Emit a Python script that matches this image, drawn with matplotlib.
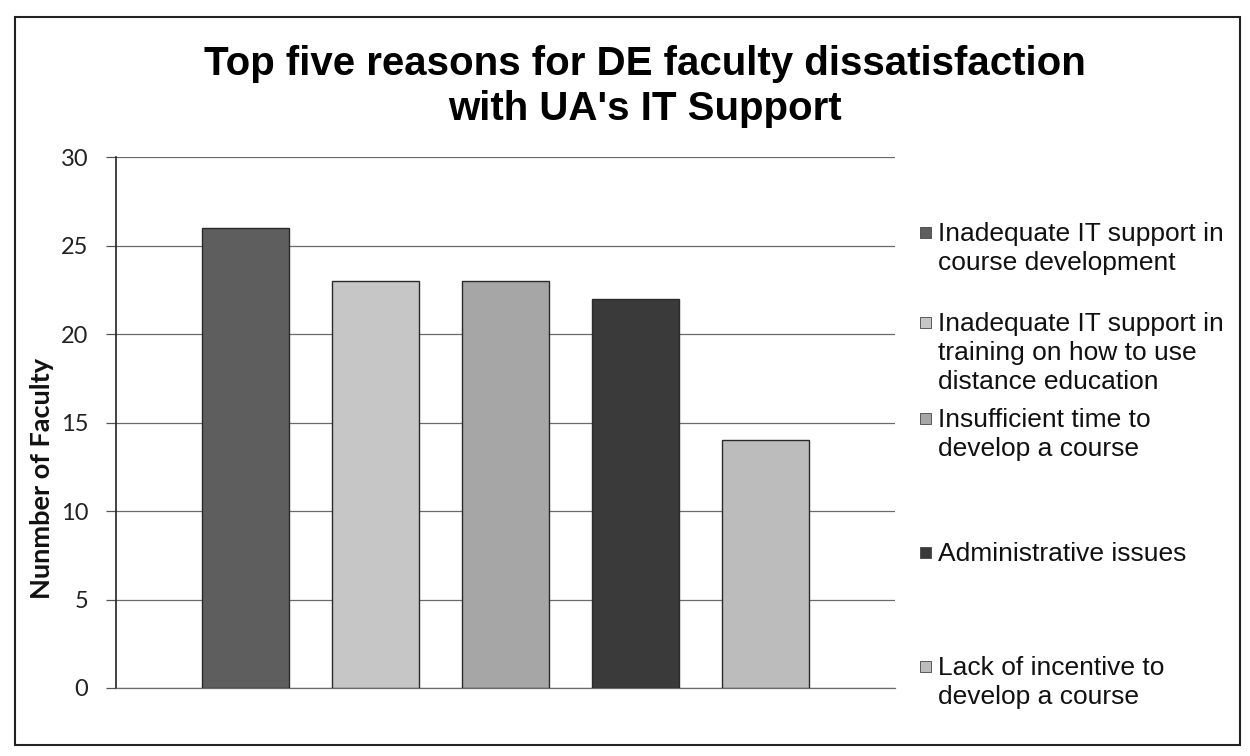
import matplotlib
matplotlib.use("Agg")
import matplotlib.pyplot as plt
from matplotlib.patches import Rectangle

# data
reasons = [
    "Inadequate IT support in\ncourse development",
    "Inadequate IT support in\ntraining on how to use\ndistance education",
    "Insufficient time to\ndevelop a course",
    "Administrative issues",
    "Lack of incentive to\ndevelop a course",
]
faculty_counts = [26, 23, 23, 22, 14]
bar_colors = ["#5e5e5e", "#c6c6c6", "#a6a6a6", "#3a3a3a", "#bcbcbc"]
y_ticks = [0, 5, 10, 15, 20, 25, 30]

fig = plt.figure(figsize=(12.5, 7.56), dpi=100)
ax = fig.add_axes([0.0928, 0.090, 0.6232, 0.702])

x = range(len(faculty_counts))
ax.bar(x, faculty_counts, width=0.67, color=bar_colors, edgecolor="#2a2a2a",
       linewidth=1.0, zorder=3)

ax.set_xlim(-1, 5)
ax.set_ylim(0, 30)
ax.set_yticks(y_ticks)
ax.set_xticks([])
ax.yaxis.grid(True, color="#6a6a6a", linewidth=0.9, zorder=0)
ax.tick_params(axis="y", length=7, width=0.9, color="#555555", pad=13,
               labelsize=17, labelcolor="#222222")
for lbl in ax.get_yticklabels():
    lbl.set_family("Lato")
for side in ["top", "right"]:
    ax.spines[side].set_visible(False)
ax.spines["left"].set_color("#222222")
ax.spines["left"].set_linewidth(1.2)
ax.spines["bottom"].set_color("#6a6a6a")
ax.spines["bottom"].set_linewidth(0.9)

ax.set_ylabel("Nunmber of Faculty", family="Lato", fontweight="bold",
              fontsize=19.5, color="#111111")
ax.yaxis.set_label_coords(-0.08, 0.394)

title_lines = ["Top five reasons for DE faculty dissatisfaction", "with UA's IT Support"]
for line, yy in zip(title_lines, [0.9010, 0.8415]):
    fig.text(0.516, yy, line, ha="center", va="baseline", family="Liberation Sans",
             fontweight="bold", fontsize=29, color="#000000")

# legend drawn by hand to follow the uneven spacing of the original
legend_base = [0.6812, 0.5622, 0.4352, 0.2579, 0.1071]
for label, color, yy in zip(reasons, bar_colors, legend_base):
    fig.patches.append(Rectangle((0.7360, yy + 0.0040), 0.0088, 0.0146,
                                 transform=fig.transFigure, facecolor=color,
                                 edgecolor="#444444", linewidth=0.6))
    first, *rest = label.split("\n")
    fig.text(0.7504, yy, first, ha="left", va="baseline",
             family="Liberation Sans", fontsize=19, color="#111111")
    for i, line in enumerate(rest, start=1):
        fig.text(0.7504, yy - i * 29 / 756, line, ha="left", va="baseline",
                 family="Liberation Sans", fontsize=19, color="#111111")

# outer frame of the chart area
fig.patches.append(Rectangle((0.012, 0.015), 0.980, 0.962, transform=fig.transFigure,
                             fill=False, edgecolor="#222222", linewidth=1.5))

fig.savefig("out.png", dpi=100)
